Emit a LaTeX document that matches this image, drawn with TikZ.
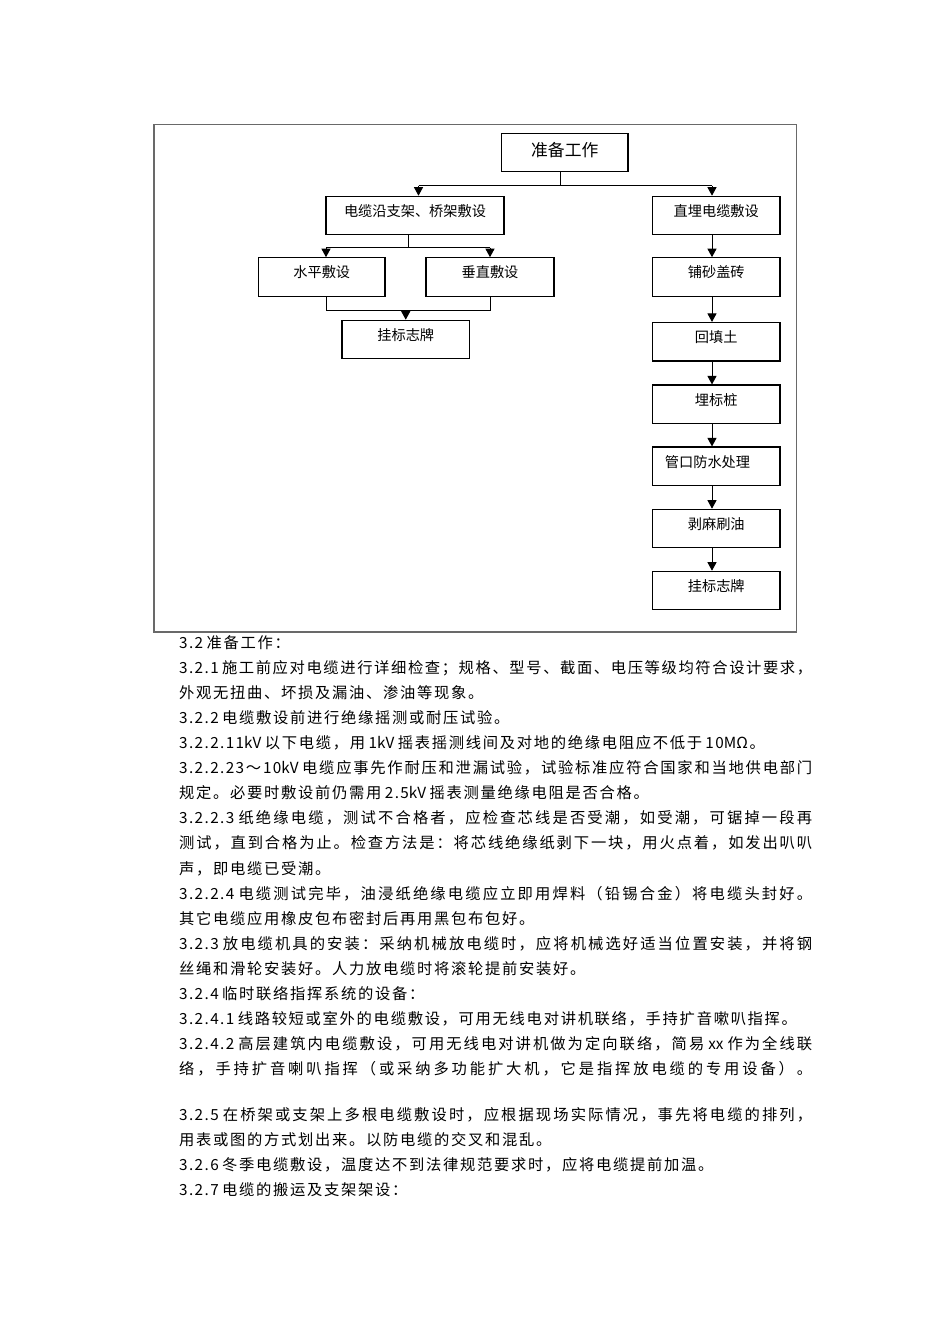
\documentclass[tikz,border=0pt]{standalone}
\usepackage{fontspec}
\usetikzlibrary{arrows.meta,calc}
\newfontfamily\cjk{Noto Sans CJK SC}
\definecolor{framecol}{RGB}{105,105,105}
% character classes for inter-character spacing in the body text
\newcount\cccount
\def\setcls#1#2#3{\cccount=#1\relax
  \loop\XeTeXcharclass\cccount=#3\relax\ifnum\cccount<#2\relax\advance\cccount by 1\repeat}
\setcls{"4E00}{"9FFF}{11}
\setcls{"3000}{"303F}{11}
\setcls{"FF00}{"FFEF}{11}
\setcls{`0}{`9}{12}
\XeTeXcharclass`.=12
\XeTeXinterchartoks 11 11 = {\hskip 1.7pt plus 1pt minus 0.6pt\relax}
\XeTeXinterchartoks 0 11 = {\hskip 1.7pt plus 1pt minus 0.6pt\relax}
\XeTeXinterchartoks 11 0 = {\hskip 1.7pt plus 1pt minus 0.6pt\relax}
\XeTeXinterchartoks 12 11 = {\hskip 1.7pt plus 1pt minus 0.6pt\relax}
\XeTeXinterchartoks 11 12 = {\hskip 1.7pt plus 1pt minus 0.6pt\relax}
\XeTeXinterchartoks 12 12 = {\kern 1.4pt\relax}
\newcommand\fullline[1]{\makebox[633pt][s]{#1}}
\newcommand\bodyfont{\cjk\fontsize{15.3pt}{18pt}\selectfont\XeTeXinterchartokenstate=1\relax}
\newcommand\boxfont{\cjk\fontsize{14.2pt}{16pt}\selectfont}
\newcommand\titlefont{\cjk\fontsize{16.8pt}{19pt}\selectfont}
\tikzset{
  stepbox/.style={draw, line width=1.1pt, inner sep=0pt, minimum height=38.5pt,
    text height=12pt, text depth=10.4pt, font=\boxfont},
  conn/.style={line width=1pt},
  arr/.style={line width=1pt, -{Triangle[width=9pt,length=8.5pt]}},
  bodyline/.style={anchor=base west, inner sep=0pt, font=\bodyfont},
  framebox/.style={draw=framecol, line width=1.3pt, inner sep=0pt}
}
\begin{document}
\begin{tikzpicture}[x=1pt,y=-1pt]
\useasboundingbox (0,0) rectangle (950,1344);
% outer frame
\node[framebox, minimum width=642.5pt, minimum height=507.5pt] (fr) at (475.25,378.25) {};
% boxes
\node[stepbox, minimum width=126.5pt, font=\titlefont, text height=15pt, text depth=7pt] (zb) at (564.75,152.5) {准备工作};
\node[stepbox, minimum width=178pt] (dl) at (415,215.5) {电缆沿支架、桥架敷设};
\node[stepbox, minimum width=127.5pt] (zm) at (716.25,215.5) {直埋电缆敷设};
\node[stepbox, minimum width=126.5pt] (sp) at (321.75,277) {水平敷设};
\node[stepbox, minimum width=128pt] (cz) at (490,277) {垂直敷设};
\node[stepbox, minimum width=127.5pt] (gl) at (405.75,339.5) {挂标志牌};
\node[stepbox, minimum width=127.5pt] (ps) at (716.25,277) {铺砂盖砖};
\node[stepbox, minimum width=127.5pt] (ht) at (716.25,341.75) {回填土};
\node[stepbox, minimum width=127.5pt] (mz) at (716.25,404.25) {埋标桩};
\node[stepbox, minimum width=127.5pt] (gk) at (716.25,466.25) {\hspace*{-17.5pt}管口防水处理};
\node[stepbox, minimum width=127.5pt] (bm) at (716.25,528.5) {剥麻刷油};
\node[stepbox, minimum width=127.5pt] (gr) at (716.25,590.5) {挂标志牌};
% connector end points (slightly off-centre, as in the reference)
\coordinate (dlin) at ($(dl.north)+(3.5,0)$);
\coordinate (spin) at ($(sp.north)+(4.25,0)$);
\coordinate (spout) at ($(sp.south)+(4.25,0)$);
\coordinate (rcol) at ($(zm.north)+(-4.25,0)$);
% top split
\coordinate (j1) at (560,185.5);
\draw[conn] (zb.south -| j1) -- (j1);
\draw[conn] (dlin |- j1) -- (rcol |- j1);
\draw[arr] (dlin |- j1) -- (dlin);
\draw[arr] (rcol |- j1) -- (rcol);
% left split
\coordinate (j2) at (408,247.5);
\draw[conn] (dl.south -| j2) -- (j2);
\draw[conn] (spin |- j2) -- (cz.north |- j2);
\draw[arr] (spin |- j2) -- (spin);
\draw[arr] (cz.north |- j2) -- (cz.north);
% left merge
\coordinate (j3) at (407,310.5);
\draw[conn] (spout) |- (cz.south |- j3) -- (cz.south);
\draw[arr] (gl.north |- j3) -- (gl.north);
% right column
\draw[arr] (zm.south -| rcol) -- (ps.north -| rcol);
\draw[arr] (ps.south -| rcol) -- (ht.north -| rcol);
\draw[arr] (ht.south -| rcol) -- (mz.north -| rcol);
\draw[arr] (mz.south -| rcol) -- (gk.north -| rcol);
\draw[arr] (gk.south -| rcol) -- (bm.north -| rcol);
\draw[arr] (bm.south -| rcol) -- (gr.north -| rcol);
% body text
\node[bodyline] (l0) at (179,648.5) {3.2 准备工作：};
\node[bodyline] (l1) at (179,673.5) {\fullline{3.2.1 施工前应对电缆进行详细检查；规格、型号、截面、电压等级均符合设计要求，}};
\node[bodyline] (l2) at (179,698.6) {外观无扭曲、坏损及漏油、渗油等现象。};
\node[bodyline] (l3) at (179,723.7) {3.2.2 电缆敷设前进行绝缘摇测或耐压试验。};
\node[bodyline] (l4) at (179,748.7) {3.2.2.11kV 以下电缆，用 1kV 摇表摇测线间及对地的绝缘电阻应不低于 10MΩ。};
\node[bodyline] (l5) at (179,773.8) {\fullline{3.2.2.23～10kV 电缆应事先作耐压和泄漏试验，试验标准应符合国家和当地供电部门}};
\node[bodyline] (l6) at (179,798.8) {规定。必要时敷设前仍需用 2.5kV 摇表测量绝缘电阻是否合格。};
\node[bodyline] (l7) at (179,823.9) {\fullline{3.2.2.3 纸绝缘电缆，测试不合格者，应检查芯线是否受潮，如受潮，可锯掉一段再}};
\node[bodyline] (l8) at (179,848.9) {\fullline{测试，直到合格为止。检查方法是：将芯线绝缘纸剥下一块，用火点着，如发出叭叭}};
\node[bodyline] (l9) at (179,874) {声，即电缆已受潮。};
\node[bodyline] (l10) at (179,899) {\fullline{3.2.2.4 电缆测试完毕，油浸纸绝缘电缆应立即用焊料（铅锡合金）将电缆头封好。}};
\node[bodyline] (l11) at (179,924.1) {其它电缆应用橡皮包布密封后再用黑包布包好。};
\node[bodyline] (l12) at (179,949.1) {\fullline{3.2.3 放电缆机具的安装：采纳机械放电缆时，应将机械选好适当位置安装，并将钢}};
\node[bodyline] (l13) at (179,974.2) {丝绳和滑轮安装好。人力放电缆时将滚轮提前安装好。};
\node[bodyline] (l14) at (179,999.2) {3.2.4 临时联络指挥系统的设备：};
\node[bodyline] (l15) at (179,1024.3) {3.2.4.1 线路较短或室外的电缆敷设，可用无线电对讲机联络，手持扩音嗽叭指挥。};
\node[bodyline] (l16) at (179,1049.3) {\fullline{3.2.4.2 高层建筑内电缆敷设，可用无线电对讲机做为定向联络，简易 xx 作为全线联}};
\node[bodyline] (l17) at (179,1074.4) {\fullline{络，手持扩音喇叭指挥（或采纳多功能扩大机，它是指挥放电缆的专用设备）。}};
\node[bodyline] (l19) at (179,1120.5) {\fullline{3.2.5 在桥架或支架上多根电缆敷设时，应根据现场实际情况，事先将电缆的排列，}};
\node[bodyline] (l20) at (179,1145.5) {用表或图的方式划出来。以防电缆的交叉和混乱。};
\node[bodyline] (l21) at (179,1170.5) {3.2.6 冬季电缆敷设，温度达不到法律规范要求时，应将电缆提前加温。};
\node[bodyline] (l22) at (179,1195.5) {3.2.7 电缆的搬运及支架架设：};
\end{tikzpicture}
\end{document}
